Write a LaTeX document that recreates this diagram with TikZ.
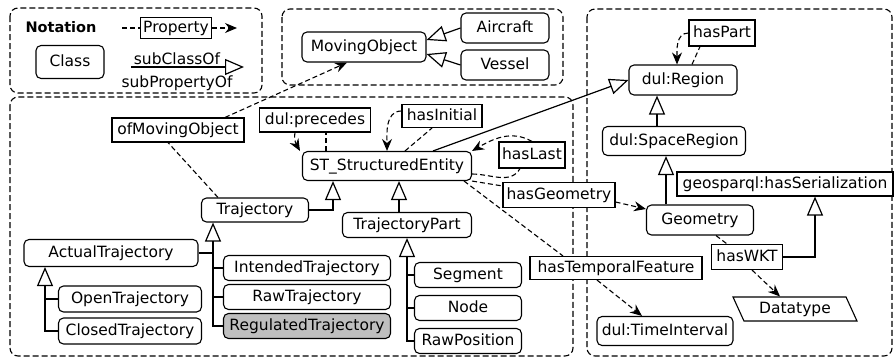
\documentclass[tikz,border=0pt]{standalone}
\usepackage{fontspec}
\setmainfont{DejaVu Sans}
\usetikzlibrary{arrows.meta,shapes.geometric}

\begin{document}
\begin{tikzpicture}[x=1pt,y=-1pt]
        \tikzstyle{every node}=[font=\fontsize{15.5}{18}\selectfont, text=black]
        \tikzstyle{cls}=[rectangle, rounded corners=5pt, draw=black, fill=white, line width=1.1pt, inner sep=2pt, minimum height=25pt, text height=11.5pt, text depth=3.5pt]
        \tikzstyle{prop}=[rectangle, draw=black, fill=white, line width=1.1pt, inner sep=2pt, minimum height=24pt, text height=11.5pt, text depth=3.5pt]
        \tikzstyle{dtype}=[trapezium, trapezium left angle=120, trapezium right angle=60, trapezium stretches body, draw=black, fill=white, line width=1.1pt, inner sep=2pt, text height=11.5pt, text depth=3.5pt]
        \tikzstyle{isa}=[line width=1.2pt, -{Triangle[open, length=19pt, width=16pt]}]
        \tikzstyle{rel}=[line width=1.1pt, dash pattern=on 5pt off 3pt]
        \tikzstyle{relto}=[rel, -{Stealth[length=12pt, width=10pt, inset=4pt]}]
        \tikzstyle{group}=[draw=black, line width=1.1pt, dash pattern=on 6pt off 3pt, rounded corners=8pt]

        \useasboundingbox (0,0) rectangle (895,360);

        \draw[group] (10,8) rectangle (262,93);
        \draw[group] (282,9) rectangle (563,85);
        \draw[group] (10,97) rectangle (573,356);
        \draw[group] (587,9) rectangle (892,356);

        % legend
        \node[font=\fontsize{14.5}{16}\selectfont\bfseries] (notation) at (61,27) {Notation};
        \node[prop, minimum width=71pt, minimum height=21pt] (propkey) at (176,28) {Property};
        \coordinate (propkey-a) at (122,28);
        \coordinate (propkey-b) at (237,28);
        \node[cls, minimum width=68pt, minimum height=33pt] (clskey) at (70,62) {Class};
        \coordinate (isakey-a) at (131,67);
        \coordinate (isakey-b) at (244,67);
        \node (isakey-top) at (177,59) {subClassOf};
        \node (isakey-bot) at (177,83) {subPropertyOf};

        \node[cls, minimum width=124pt, minimum height=30pt] (mo)       at (364,47)  {MovingObject};
        \node[cls, minimum width=88pt,  minimum height=30pt] (aircraft) at (505,28)  {Aircraft};
        \node[cls, minimum width=88pt,  minimum height=30pt] (vessel)   at (505,65)  {Vessel};

        \node[cls,  minimum width=108pt, minimum height=30pt] (region)   at (683,80)  {dul:Region};
        \node[prop, minimum width=66pt,  minimum height=26pt] (haspart)  at (722,33)  {hasPart};
        \node[cls,  minimum width=143pt, minimum height=29pt] (space)    at (674,141) {dul:SpaceRegion};
        \node[cls,  minimum width=107pt, minimum height=30pt] (geometry) at (700,220) {Geometry};
        \node[prop, minimum width=216pt]                      (serial)   at (785,184) {geosparql:hasSerialization};
        \node[prop, minimum width=71pt,  minimum height=25pt] (haswkt)   at (747,257) {hasWKT};
        \node[dtype, minimum width=124pt, minimum height=24pt] (datatype) at (795,309) {Datatype};
        \node[cls,  minimum width=136pt, minimum height=29pt] (interval) at (665,331) {dul:TimeInterval};

        \node[prop, minimum width=132pt]                      (ofmo)     at (178,130) {ofMovingObject};
        \node[prop, minimum width=111pt]                      (precedes) at (315,120) {dul:precedes};
        \node[prop, minimum width=80pt,  minimum height=23pt] (hasinit)  at (442,116) {hasInitial};
        \node[cls,  minimum width=169pt, minimum height=29pt] (st)       at (387,166) {ST\_StructuredEntity};
        \node[prop, minimum width=66pt,  minimum height=26pt] (haslast)  at (532,155) {hasLast};
        \node[prop, minimum width=112pt, minimum height=25pt] (hasgeom)  at (559,195) {hasGeometry};
        \node[prop, minimum width=172pt, minimum height=23pt] (hastemp)  at (616,268) {hasTemporalFeature};

        \node[cls, minimum width=107pt, minimum height=24pt] (traj)      at (255,210) {Trajectory};
        \node[cls, minimum width=129pt]                      (part)      at (407,225) {TrajectoryPart};
        \node[cls, minimum width=174pt, minimum height=27pt] (actual)    at (111,253) {ActualTrajectory};
        \node[cls, minimum width=167pt]                      (intended)  at (307,268) {IntendedTrajectory};
        \node[cls, minimum width=167pt]                      (rawtraj)   at (307,297) {RawTrajectory};
        \node[cls, minimum width=167pt, fill=lightgray]      (regulated) at (307,326) {RegulatedTrajectory};
        \node[cls, minimum width=143pt, minimum height=26pt] (opentraj)  at (130,299) {OpenTrajectory};
        \node[cls, minimum width=143pt, minimum height=26pt] (closed)    at (130,331) {ClosedTrajectory};
        \node[cls, minimum width=107pt]                      (segment)   at (468,275) {Segment};
        \node[cls, minimum width=107pt]                      (nodecls)   at (468,308) {Node};
        \node[cls, minimum width=107pt]                      (rawpos)    at (468,341) {RawPosition};

        % subclass edges
        \draw[isa] (isakey-a) -- (isakey-b);
        \draw[isa] (aircraft.west) -- ([yshift=7pt]mo.east);
        \draw[isa] (vessel.west) -- ([yshift=-7pt]mo.east);
        \draw[isa] ([xshift=46pt]st.north) -- (region.west);
        \draw[isa] ([xshift=-17pt]space.north) -- ([xshift=-17pt]space.north |- region.south);
        \draw[isa] ([xshift=-34pt]geometry.north) -- ([xshift=-34pt]geometry.north |- space.south);
        \draw[isa] (haswkt.east) -| ([xshift=30pt]serial.south);
        \draw[isa] (traj.east) -| ([xshift=-54pt]st.south);
        \draw[isa] ([xshift=-8pt]part.north) -- ([xshift=-8pt]part.north |- st.south);

        \coordinate (traj-trunk) at ([xshift=-42pt]traj.south);
        \draw[isa] (regulated.west) -| (traj-trunk);
        \draw[line width=1.2pt] (intended.west) -- (intended.west -| traj-trunk);
        \draw[line width=1.2pt] (rawtraj.west) -- (rawtraj.west -| traj-trunk);
        \draw[line width=1.2pt] (actual.east) -- (actual.east -| traj-trunk);

        \coordinate (actual-trunk) at ([xshift=-66pt]actual.south);
        \draw[isa] (closed.west) -| (actual-trunk);
        \draw[line width=1.2pt] (opentraj.west) -- (opentraj.west -| actual-trunk);

        \draw[isa] (rawpos.west) -| (part.south);
        \draw[line width=1.2pt] (segment.west) -- (segment.west -| part.south);
        \draw[line width=1.2pt] (nodecls.west) -- (nodecls.west -| part.south);

        % property edges
        \draw[rel] (propkey-a) -- (propkey);
        \draw[relto] (propkey) -- (propkey-b);

        \draw[rel] ([xshift=-37pt]traj.north) -- ([xshift=-10pt]ofmo.south);
        \draw[relto] ([xshift=47pt]ofmo.north) -- ([xshift=-17pt]mo.south);

        \draw[rel] ([xshift=-61pt]st.north) -- ([xshift=11pt]precedes.south);
        \draw[relto] ([xshift=-20pt]precedes.south) to[out=-100, in=120] ([xshift=-87pt]st.north);

        \draw[rel] ([xshift=18pt]st.north) -- ([xshift=-10pt]hasinit.south);
        \draw[relto] ([yshift=5pt]hasinit.west) to[out=180, in=90] (st.north);

        \draw[rel] ([yshift=-8pt]st.east) to[out=0, in=-120] ([xshift=-12pt]haslast.south);
        \draw[relto] (haslast.north) to[out=150, in=30] (st.north east);

        \draw[rel] (st.south east) -- ([yshift=-4pt]hasgeom.north west);
        \draw[relto] ([yshift=-7pt]hasgeom.east) -- ([yshift=11pt]geometry.west);

        \draw[rel] ([xshift=-8pt]st.south east) -- ([xshift=-53pt]hastemp.north);
        \draw[relto] ([xshift=-19pt]hastemp.south) -- ([xshift=-23pt]interval.north);

        \draw[rel] ([xshift=9pt]region.north) -- ([xshift=-22pt]haspart.south);
        \draw[relto] (haspart.west) to[out=180, in=90] ([xshift=-6pt]region.north);

        \draw[rel] ([xshift=16pt]geometry.south) -- ([xshift=-20pt]haswkt.north);
        \draw[relto] ([xshift=5pt]haswkt.south) -- ([xshift=-15pt]datatype.north);
    \end{tikzpicture}
\end{document}
